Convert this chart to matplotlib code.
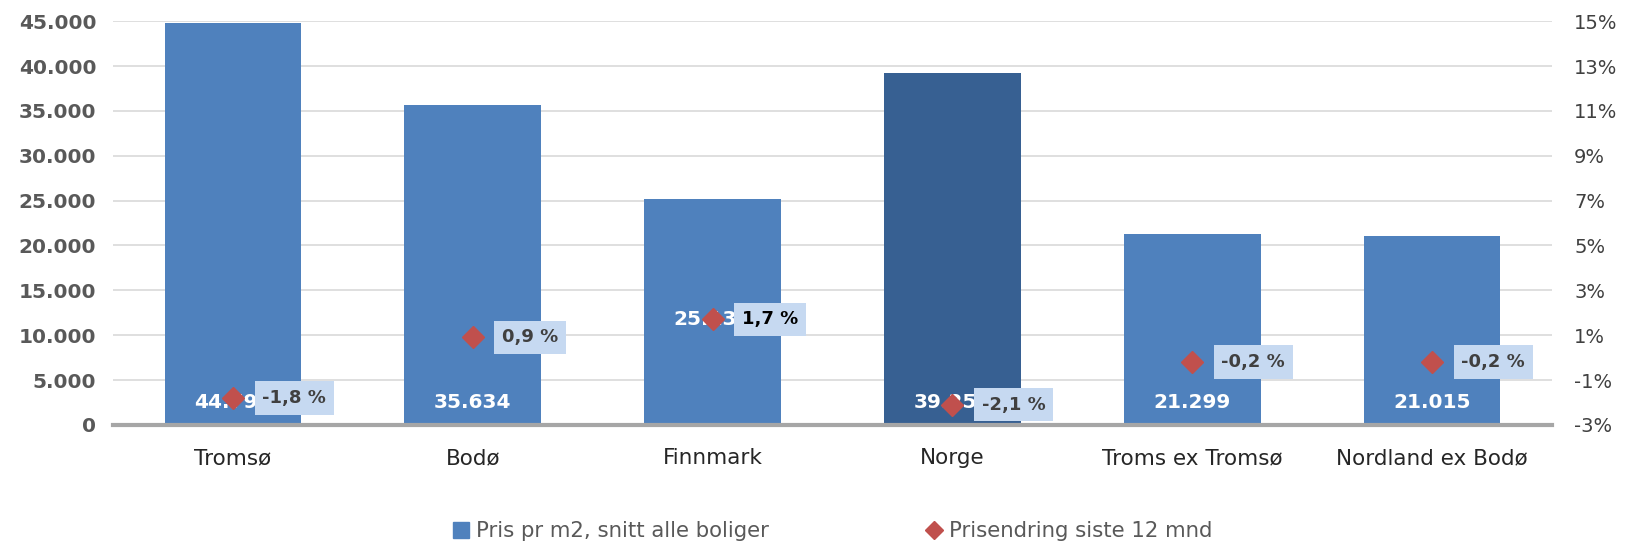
import matplotlib.pyplot as plt
from matplotlib.ticker import FuncFormatter
from matplotlib.lines import Line2D

plt.rcParams['font.family'] = ['DejaVu Sans']

# data
kategorier = ['Tromsø', 'Bodø', 'Finnmark', 'Norge', 'Troms ex Tromsø', 'Nordland ex Bodø']
pris_m2 = [44792, 35634, 25134, 39254, 21299, 21015]
endring = [-1.8, 0.9, 1.7, -2.1, -0.2, -0.2]
bar_farger = ['#4F81BD', '#4F81BD', '#4F81BD', '#376092', '#4F81BD', '#4F81BD']
tekst_farger = ['#404040', '#404040', '#000000', '#404040', '#404040', '#404040']

fig = plt.figure(figsize=(16.26, 5.44), dpi=100)
ax = fig.add_axes([0.0695, 0.219, 0.885, 0.742])
ax2 = ax.twinx()

x = range(len(kategorier))
ax.bar(x, pris_m2, width=0.57, color=bar_farger, zorder=2)

ax.set_ylim(0, 45000)
ax.set_xlim(-0.5, len(kategorier) - 0.5)
ax.set_yticks(range(0, 45001, 5000))
ax.yaxis.set_major_formatter(FuncFormatter(lambda v, p: f'{int(v):,}'.replace(',', '.')))
ax.grid(axis='y', color='#D9D9D9', linewidth=1.2, zorder=0)
ax.set_axisbelow(True)
ax.set_xticks(list(x))
ax.set_xticklabels(kategorier, fontsize=15.5, color='#262626')
ax.tick_params(axis='x', length=0, pad=17)
ax.tick_params(axis='y', length=0, labelsize=14.5, labelcolor='#595959', pad=12)
for lbl in ax.get_yticklabels():
    lbl.set_fontweight('bold')
for s in ['top', 'left', 'right']:
    ax.spines[s].set_visible(False)
ax.spines['bottom'].set_color('#A6A6A6')
ax.spines['bottom'].set_linewidth(3)

# percent change on secondary axis
ax2.set_zorder(ax.get_zorder() + 1)
ax2.patch.set_visible(False)
ax2.set_ylim(-3, 15)
ax2.set_yticks(range(-3, 16, 2))
ax2.yaxis.set_major_formatter(FuncFormatter(lambda v, p: f'{int(v)}%'))
ax2.tick_params(axis='y', length=0, labelsize=14, labelcolor='#404040', pad=16)
for s in ax2.spines.values():
    s.set_visible(False)

# bar values: at the base, except Finnmark which sits level with its marker
for i, v in enumerate(pris_m2):
    yy = endring[i] if kategorier[i] == 'Finnmark' else -2.0
    ax2.text(i, yy, f'{v:,}'.replace(',', '.'), ha='center', va='center',
             color='white', fontsize=14.5, fontweight='bold', zorder=3)

ax2.plot(list(x), endring, linestyle='none', marker='D', markersize=11,
         color='#C0504D', zorder=4)

for i, v in enumerate(endring):
    ax2.annotate(f'{v:.1f} %'.replace('.', ','), (i, v), xytext=(21, 0),
                 textcoords='offset points', ha='left', va='center',
                 fontsize=13, fontweight='bold', color=tekst_farger[i],
                 bbox=dict(boxstyle='square,pad=0.42', facecolor='#C6D9F1',
                           edgecolor='none'), zorder=5)

handles = [Line2D([], [], linestyle='none', marker='s', markersize=11, color='#4F81BD'),
           Line2D([], [], linestyle='none', marker='D', markersize=9, color='#C0504D')]
fig.legend(handles, ['Pris pr m2, snitt alle boliger', 'Prisendring siste 12 mnd'],
           loc='lower center', bbox_to_anchor=(0.512, -0.03), ncol=2, frameon=False,
           fontsize=15.3, labelcolor='#595959', columnspacing=7.4, handlelength=0.8,
           handletextpad=0.3)

fig.savefig('out.png', dpi=100)
